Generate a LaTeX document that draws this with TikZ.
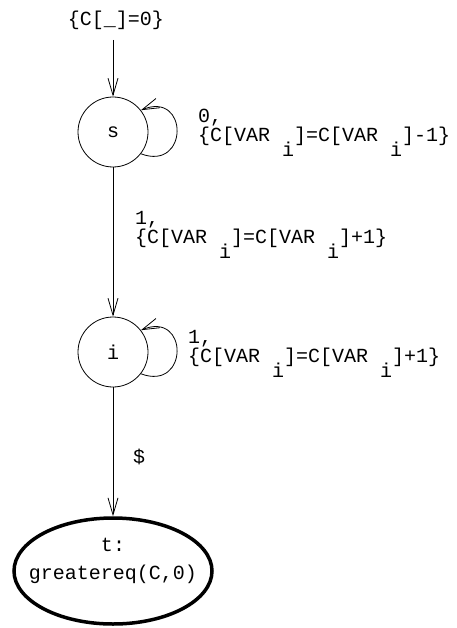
\documentclass[tikz,border=0pt]{standalone}
\usepackage{fontspec}
\newfontfamily\cour{Liberation Mono}
\usetikzlibrary{arrows.meta,shapes.geometric}
\newcommand{\sbi}{\ \raisebox{-15pt}{i}}
\tikzset{
  arr/.style={-{Straight Barb[length=17pt,width=10pt]}, line width=0.8pt},
  st/.style={circle, draw, line width=0.8pt, minimum size=70pt, inner sep=0pt, font=\cour\fontsize{20}{20}\selectfont},
  lbl/.style={font=\cour\fontsize{20}{20}\selectfont, inner sep=0pt},
  fin/.style={ellipse, draw, line width=3.5pt, minimum width=198pt, minimum height=106pt, inner sep=0pt},
}
\begin{document}
\begin{tikzpicture}[x=1pt,y=-1pt]
\useasboundingbox (0,0) rectangle (456,628);
\node[lbl] (init) at (116,20) {\{C[\_]=0\}};
\coordinate (istart) at (113,40);
\node[st] (s) at (113,132) {s};
\node[st] (i) at (113,352) {i};
\node[fin] (t) at (113,571) {};
\node[lbl] (t1) at (113,545) {t:};
\node[lbl] (t2) at (113,574) {greatereq(C,0)};
\draw[arr] (istart) -- (s);
\draw[arr] (s) -- (i);
\draw[arr] (i) -- (t);
\draw[arr] (s.-38) .. controls +(48,18) and +(48,-20) .. (s.38);
\draw[arr] (i.-38) .. controls +(48,18) and +(48,-20) .. (i.38);
\node[lbl, anchor=base west] (ls1) at (198,123) {0,};
\node[lbl, anchor=base west] (ls2) at (198,142) {\{C[VAR\sbi]=C[VAR\sbi]-1\}};
\node[lbl, anchor=base west] (lsi1) at (135,224) {1,};
\node[lbl, anchor=base west] (lsi2) at (135,243) {\{C[VAR\sbi]=C[VAR\sbi]+1\}};
\node[lbl, anchor=base west] (li1) at (188,343) {1,};
\node[lbl, anchor=base west] (li2) at (188,362) {\{C[VAR\sbi]=C[VAR\sbi]+1\}};
\node[lbl, anchor=base west] (lit) at (133,463) {\$};
\end{tikzpicture}
\end{document}
